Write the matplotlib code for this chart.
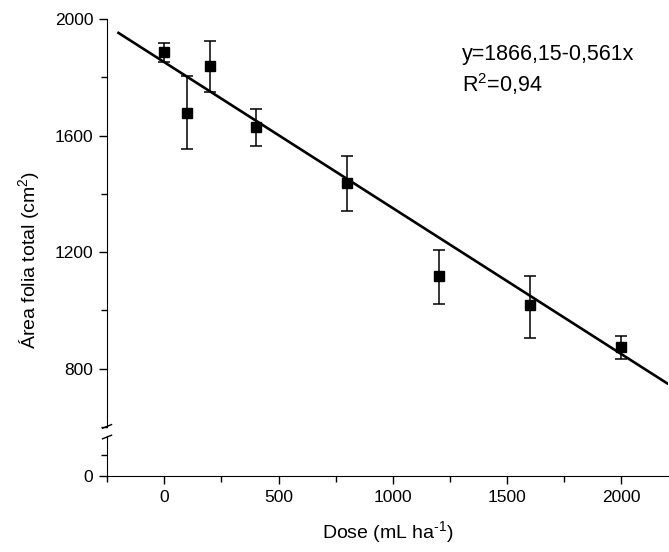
import numpy as np
import matplotlib
matplotlib.use("Agg")
import matplotlib.pyplot as plt
from matplotlib.ticker import MultipleLocator

plt.rcParams['font.family'] = ['Liberation Sans', 'DejaVu Sans']
plt.rcParams['mathtext.fontset'] = 'custom'
plt.rcParams['mathtext.rm'] = 'Liberation Sans'
plt.rcParams['mathtext.it'] = 'Liberation Sans'

# data
dose = [0, 100, 200, 400, 800, 1200, 1600, 2000]
area = [1887, 1677, 1838, 1629, 1436, 1117, 1017, 873]
err_up = [31, 127, 86, 62, 93, 89, 100, 38]
err_dn = [35, 124, 89, 65, 96, 96, 113, 38]

# fitted line as drawn
fit_intercept = 1852
fit_slope = -0.501
fit_range = [-200, 2200]

eq_text = "y=1866,15-0,561x"
r2_text = "R$^2$=0,94"

fig = plt.figure(figsize=(6.69, 5.52), dpi=100)
left, right = 0.16, 0.999
ax = fig.add_axes([left, 0.2264, right - left, 0.9656 - 0.2264])
ax2 = fig.add_axes([left, 0.1377, right - left, 0.2101 - 0.1377])

xfit = np.array(fit_range)
ax.plot(xfit, fit_intercept + fit_slope * xfit, color='black', lw=1.9, zorder=2)
ax.errorbar(dose, area, yerr=[err_dn, err_up], fmt='s', color='black',
            ms=6.5, capsize=4.5, elinewidth=1.1, capthick=1.1, zorder=3)

for a in (ax, ax2):
    a.set_xlim(-250, 2205)
    a.spines['top'].set_visible(False)
    a.spines['right'].set_visible(False)
    a.tick_params(direction='out', length=6, width=1, labelsize=12.5, pad=4)
    a.tick_params(which='minor', direction='out', length=4, width=1)
    a.xaxis.set_major_locator(MultipleLocator(500))
    a.xaxis.set_minor_locator(MultipleLocator(250))

ax.set_ylim(600, 2000)
ax.yaxis.set_minor_locator(MultipleLocator(200))
ax.set_yticks([800, 1200, 1600, 2000])
ax.spines['bottom'].set_visible(False)
ax.tick_params(axis='x', which='both', bottom=False, labelbottom=False)

ax2.set_ylim(0, 190)
ax2.set_yticks([0])
ax2.yaxis.set_minor_locator(MultipleLocator(100))
ax2.patch.set_alpha(0)

# break marks on the left spine
kw = dict(color='black', lw=1, clip_on=False)
ax.plot([-0.008, 0.008], [-0.003, 0.006], transform=ax.transAxes, **kw)
ax2.plot([-0.008, 0.008], [0.93, 1.02], transform=ax2.transAxes, **kw)

ax.text(0.633, 0.912, eq_text, transform=ax.transAxes, fontsize=15.5, va='center')
ax.text(0.633, 0.84, r2_text, transform=ax.transAxes, fontsize=15.5, va='center')

fig.text(0.58, 0.036, "Dose (mL ha$^{\\text{-}1}$)", ha='center', va='center', fontsize=14)
fig.text(0.043, 0.53, "Área folia total (cm$^2$)", rotation=90,
         ha='center', va='center', fontsize=14)

fig.savefig("out.png", dpi=100)
